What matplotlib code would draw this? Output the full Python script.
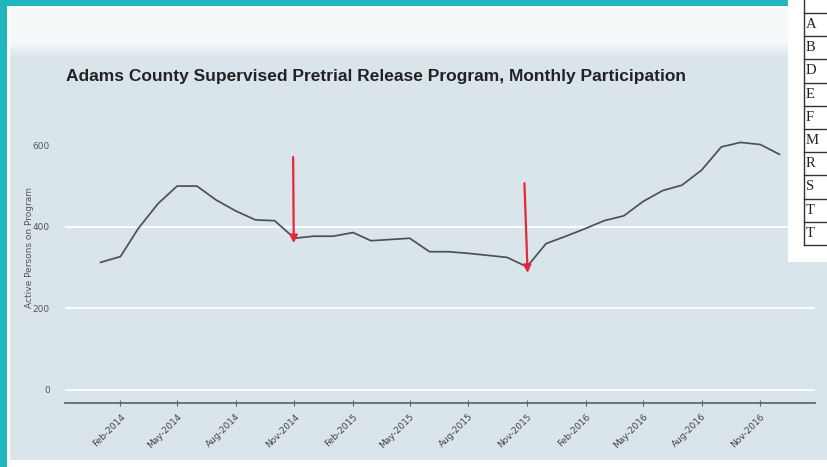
import pandas as pd
import matplotlib
matplotlib.use("Agg")
import matplotlib.pyplot as plt
from matplotlib.patches import Rectangle

# monthly active persons, Jan-2014 .. Dec-2016
months = pd.date_range("2014-01-01", "2016-12-01", freq="MS")
participants = [313, 327, 396, 457, 500, 500, 466, 439, 417, 415, 372, 377,
                377, 386, 366, 369, 372, 339, 339, 335, 330, 325, 302, 359,
                377, 396, 415, 427, 462, 489, 502, 539, 596, 607, 602, 578]

tick_months = pd.date_range("2014-02-01", "2016-11-01", freq="3MS")
ytick_values = [0, 200, 400, 600]
grid_values = [0, 200, 400]

# red arrows drawn on the printout (start, tip)
arrow_starts = [("2014-10-30", 571), ("2015-10-28", 507)]
arrow_tips = [("2014-10-31", 360), ("2015-11-02", 287)]

table_rows = ["A", "B", "D", "E", "F", "M", "R", "S", "T", "T"]

W, H = 827, 467


def px(x, y):
    """pixel coords (top-left origin) -> figure fraction"""
    return x / W, 1 - y / H


def rect(fig, x0, y0, x1, y1, color, z):
    fig.add_artist(Rectangle((x0 / W, 1 - y1 / H), (x1 - x0) / W, (y1 - y0) / H,
                             transform=fig.transFigure, color=color,
                             lw=0, zorder=z))


fig = plt.figure(figsize=(W / 100, H / 100), dpi=100)
fig.patch.set_facecolor("white")

# photo background: teal frame, white margin, blue-grey chart panel
rect(fig, 10, 8, 800, 44, "#f5f8f9", -5)
fade = ["#eef3f5", "#e6eef2", "#dfe9ee"]
for i, c in enumerate(fade):
    rect(fig, 10, 44 + 4 * i, W, 48 + 4 * i, c, -5)
rect(fig, 10, 56, W, 460, "#d9e5eb", -5)
rect(fig, 0, 0, 7, H, "#1fb6c0", -4)
rect(fig, 0, 0, 795, 6, "#1fb6c0", -4)

ax = fig.add_axes([65 / W, 1 - 403 / H, 750 / W, 283 / H])
ax.set_facecolor("none")

for v in grid_values:
    ax.axhline(v, color="white", lw=1.3, zorder=1)

ax.plot(months, participants, color="#4b5157", lw=1.25, zorder=3)

for (s_date, s_val), (t_date, t_val) in zip(arrow_starts, arrow_tips):
    ax.annotate("", xy=(pd.Timestamp(t_date), t_val),
                xytext=(pd.Timestamp(s_date), s_val),
                arrowprops=dict(arrowstyle="-|>", color="#e3283c", lw=1.6,
                                mutation_scale=11, shrinkA=0, shrinkB=0),
                zorder=4)

ax.set_xlim(months[0] - pd.Timedelta(days=56), months[-1] + pd.Timedelta(days=56))
ax.set_ylim(-32, 662)

for side in ["top", "right", "left"]:
    ax.spines[side].set_visible(False)
ax.spines["bottom"].set_color("#5a5f63")
ax.spines["bottom"].set_linewidth(1.2)

ax.set_xticks(tick_months)
ax.set_xticklabels([d.strftime("%b-%Y") for d in tick_months], rotation=45,
                   ha="right", rotation_mode="anchor", fontsize=6.5,
                   color="#444444")
ax.tick_params(axis="x", direction="inout", length=5, width=0.8,
               color="#666666", pad=4)

ax.set_yticks(ytick_values)
ax.set_yticklabels([str(v) for v in ytick_values], fontsize=6.5, color="#555555")
ax.tick_params(axis="y", length=0, pad=11)
ax.set_ylabel("Active Persons on Program", fontsize=6.5, color="#555555")
ax.yaxis.set_label_coords(-0.042, 0.55)

fig.text(*px(66, 76), "Adams County Supervised Pretrial Release Program, Monthly Participation",
         fontsize=12.5, fontweight="bold", color="#222222", va="center",
         family="Liberation Sans")

# edge of the county table next to the chart
rect(fig, 788, 0, W, 262, "white", 5)
x_line = 804 / W
fig.add_artist(plt.Line2D([x_line, x_line], [1, px(0, 245)[1]],
                          transform=fig.transFigure, color="#333333", lw=1.0,
                          zorder=6))
row_h = 23.2
for k in range(len(table_rows) + 1):
    y = 13 + k * row_h
    fig.add_artist(plt.Line2D([x_line, 1], [px(0, y)[1]] * 2,
                              transform=fig.transFigure, color="#333333",
                              lw=1.0, zorder=6))
for k, letter in enumerate(table_rows):
    fig.text(*px(806, 13 + (k + 0.5) * row_h), letter, fontsize=10.5,
             family="Liberation Serif", color="#222222", va="center",
             zorder=7)

fig.savefig("out.png", dpi=100)
